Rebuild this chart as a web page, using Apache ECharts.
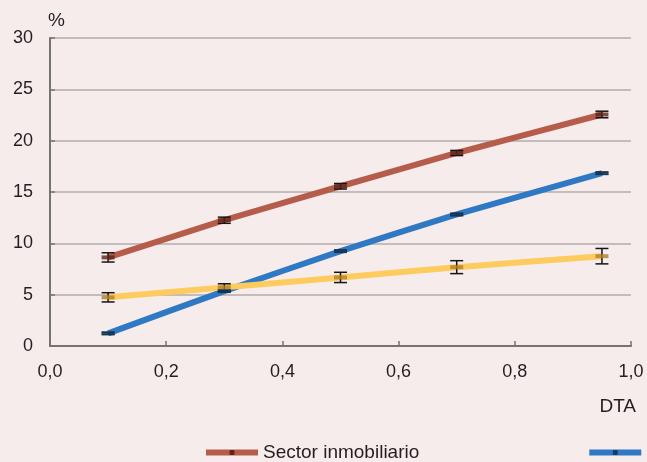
<!DOCTYPE html>
<html>
<head>
<meta charset="utf-8">
<script src="https://cdn.jsdelivr.net/npm/echarts@6/dist/echarts.min.js"></script>
<style>
  html, body { margin: 0; padding: 0; background: #f7ecec; }
  #chart { width: 647px; height: 462px; }
</style>
</head>
<body>
<div id="chart"></div>
<script>
// DTA values on the x axis
var dta = [0.1, 0.3, 0.5, 0.7, 0.95];

// series values (%) and half widths of the error bars
var inmobiliario = [8.63, 12.25, 15.56, 18.8, 22.55];
var inmobiliarioErr = [0.45, 0.3, 0.27, 0.25, 0.32];
var azul = [1.23, 5.35, 9.24, 12.81, 16.83];
var azulErr = [0.1, 0.1, 0.1, 0.1, 0.1];
var amarillo = [4.74, 5.71, 6.68, 7.68, 8.75];
var amarilloErr = [0.45, 0.35, 0.5, 0.63, 0.75];

var names = ['Sector inmobiliario', 'Hogares', 'Empresas no financieras'];
var xTicks = [0, 0.2, 0.4, 0.6, 0.8, 1.0];
var yTicks = [0, 5, 10, 15, 20, 25, 30];

var FONT = 'Liberation Sans';

function pts(vals) {
    return dta.map(function (x, i) { return [x, vals[i]]; });
}
function bars(vals, errs) {
    return dta.map(function (x, i) { return [x, vals[i] - errs[i], vals[i] + errs[i]]; });
}

function renderErr(params, api) {
    var x = api.value(0);
    var top = api.coord([x, api.value(2)]);
    var bot = api.coord([x, api.value(1)]);
    var hw = 6.5;
    var st = { stroke: '#151515', lineWidth: 1.5 };
    return {
        type: 'group',
        children: [
            { type: 'line', shape: { x1: top[0], y1: top[1], x2: bot[0], y2: bot[1] }, style: st },
            { type: 'line', shape: { x1: top[0] - hw, y1: top[1], x2: top[0] + hw, y2: top[1] }, style: st },
            { type: 'line', shape: { x1: bot[0] - hw, y1: bot[1], x2: bot[0] + hw, y2: bot[1] }, style: st }
        ]
    };
}

var lineCol = ['#b55d4a', '#2f78c3', '#fecb5e'];
var markCol = ['#5c2319', '#143c62', '#b1802c'];
var vals = [inmobiliario, azul, amarillo];
var errs = [inmobiliarioErr, azulErr, amarilloErr];

var series = [];
for (var i = 0; i < 3; i++) {
    series.push({
        name: names[i],
        type: 'line',
        data: pts(vals[i]),
        symbol: 'rect',
        showSymbol: false,
        smooth: 0.15,
        lineStyle: { color: lineCol[i], width: 6 },
        itemStyle: { color: markCol[i] },
        z: 2,
        silent: true
    });
}
for (var i = 0; i < 3; i++) {
    series.push({
        name: 'err' + i,
        type: 'custom',
        renderItem: renderErr,
        data: bars(vals[i], errs[i]),
        encode: { x: 0, y: [1, 2] },
        z: 3,
        silent: true
    });
}
for (var i = 0; i < 3; i++) {
    series.push({
        name: 'm' + i,
        type: 'scatter',
        data: pts(vals[i]),
        symbol: 'rect',
        symbolSize: [13, 4],
        itemStyle: { color: markCol[i] },
        z: 4,
        silent: true
    });
}

var chart = echarts.init(document.getElementById('chart'));
chart.setOption({
    backgroundColor: '#f7ecec',
    animation: false,
    textStyle: { fontFamily: FONT },
    grid: { left: 50, right: 16, top: 38, bottom: 116 },
    legend: {
        data: names,
        left: 203,
        top: 443,
        padding: 0,
        width: 1200,
        itemWidth: 52,
        itemHeight: 6,
        itemGap: 167,
        lineStyle: { width: 6 },
        textStyle: { fontSize: 19, color: '#231f20', fontFamily: FONT }
    },
    xAxis: {
        type: 'value',
        min: xTicks[0],
        max: xTicks[xTicks.length - 1],
        interval: 0.2,
        name: 'DTA',
        nameLocation: 'end',
        nameGap: 5,
        nameTextStyle: { fontSize: 19, color: '#231f20', align: 'right', verticalAlign: 'top', padding: [51, 0, 0, 0] },
        axisLine: { lineStyle: { color: '#767373', width: 2 } },
        axisTick: { inside: true, length: 5, lineStyle: { color: '#767373', width: 1.5 } },
        axisLabel: {
            fontSize: 18, color: '#231f20', margin: 17,
            formatter: function (v) { return v.toFixed(1).replace('.', ','); }
        },
        splitLine: { show: false }
    },
    yAxis: {
        type: 'value',
        min: yTicks[0],
        max: yTicks[yTicks.length - 1],
        interval: 5,
        name: '%',
        nameLocation: 'end',
        nameGap: 17,
        nameTextStyle: { fontSize: 19, color: '#231f20', align: 'left', verticalAlign: 'middle', padding: [0, 0, 0, -2] },
        axisLine: { show: true, lineStyle: { color: '#767373', width: 2 } },
        axisTick: { show: true, inside: true, length: 5, lineStyle: { color: '#767373', width: 1.5 } },
        axisLabel: { fontSize: 18, color: '#231f20', margin: 17 },
        splitLine: { lineStyle: { color: '#c2bcbc', width: 2 } }
    },
    series: series
});
</script>
</body>
</html>
